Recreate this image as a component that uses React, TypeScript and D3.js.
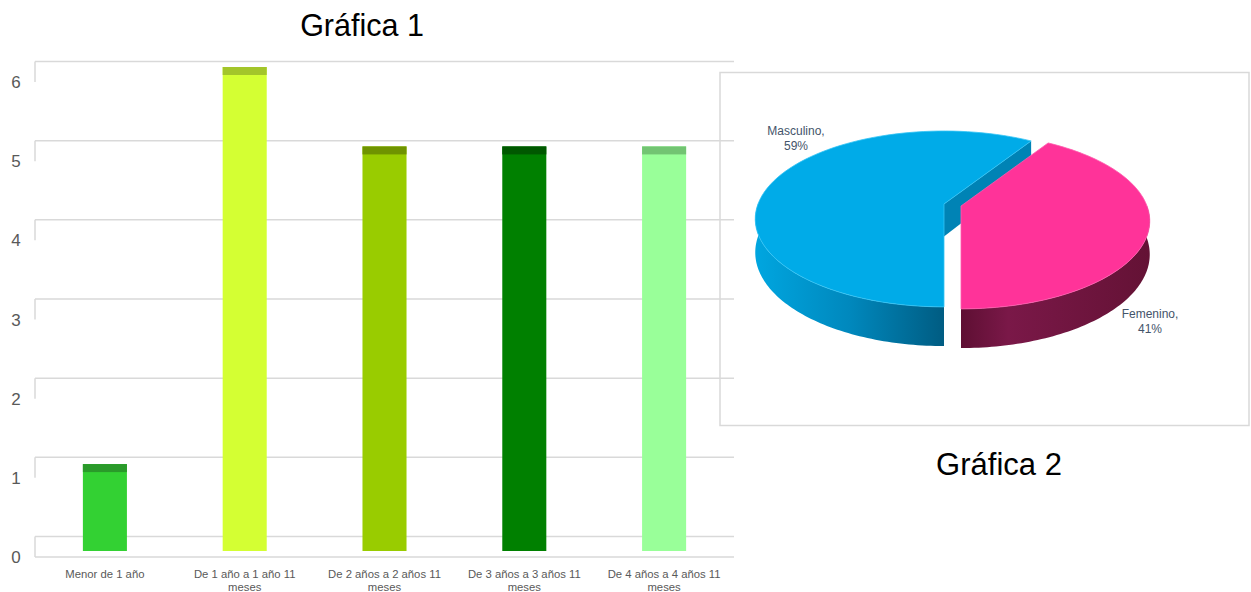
import React from "react";
import * as d3 from "d3";

const categories = [
  ["Menor de 1 año"],
  ["De 1 año a 1 año 11", "meses"],
  ["De 2 años a 2 años 11", "meses"],
  ["De 3 años a 3 años 11", "meses"],
  ["De 4 años a 4 años 11", "meses"],
];
const values = [1, 6, 5, 5, 5];
const barColors = ["#33d133", "#d4ff33", "#99cc00", "#008000", "#99ff99"];
const capColors = ["#2a9a2a", "#a3c52a", "#6f9300", "#005800", "#72c472"];
const yTicks = [0, 1, 2, 3, 4, 5, 6];

const pieLabels = ["Femenino", "Masculino"];
const pieValues = [41, 59];
const pieTop = ["#ff3399", "#00abe8"];

const W = 1251;
const H = 592;

function BarChart() {
  const x = d3.scaleBand<number>().domain(d3.range(values.length)).range([35, 734]).paddingInner(0.685).paddingOuter(0.3425);
  const yBack = d3.scaleLinear().domain([0, 6]).range([536.5, 61.5]);
  const yFront = d3.scaleLinear().domain([0, 6]).range([557, 82]);
  const yBar = d3.scaleLinear().domain([0, 6]).range([543.5, 67]);
  const barBottom = 551;
  const grid = "#d9d9d9";
  return (
    <g>
      {yTicks.map((t) => (
        <g key={t}>
          <line x1={35} x2={734} y1={yBack(t)} y2={yBack(t)} stroke={grid} strokeWidth={1.5} />
          <line x1={35} x2={35} y1={yBack(t)} y2={yFront(t)} stroke={grid} strokeWidth={1.5} />
          <text x={16} y={yFront(t) + 6} textAnchor="middle" fontSize={17} fill="#595959" fontFamily="Liberation Sans, Arial, sans-serif">{t}</text>
        </g>
      ))}
      <line x1={35} x2={734} y1={yFront(0)} y2={yFront(0)} stroke={grid} strokeWidth={1.5} />
      {values.map((v, i) => {
        const bx = x(i)!;
        const bw = x.bandwidth();
        const top = yBar(v);
        return (
          <g key={i}>
            <rect x={bx} y={top} width={bw} height={barBottom - top} fill={barColors[i]} />
            <rect x={bx} y={top} width={bw} height={8} fill={capColors[i]} />
          </g>
        );
      })}
      {categories.map((lines, i) => (
        <text key={i} x={x(i)! + x.bandwidth() / 2} y={578} textAnchor="middle" fontSize={11.3} fill="#595959" fontFamily="Liberation Sans, Arial, sans-serif">
          {lines.map((l, j) => (
            <tspan key={j} x={x(i)! + x.bandwidth() / 2} dy={j === 0 ? 0 : 13}>{l}</tspan>
          ))}
        </text>
      ))}
      <text x={362} y={36} textAnchor="middle" fontSize={30.5} fill="#000" fontFamily="Liberation Sans, Arial, sans-serif">Gráfica 1</text>
    </g>
  );
}

function PieChart() {
  const rx = 186;
  const ry = 85.4;
  const p = 0.17;
  const depth = 32.5;
  const total = d3.sum(pieValues);
  // angles clockwise from 12 o'clock; Femenino from 32.4° to 180°
  const femStart = Math.PI - (pieValues[0] / total) * 2 * Math.PI;
  const slices = [
    { start: femStart, end: Math.PI, cx: 961, cy: 206 },
    { start: Math.PI, end: femStart + 2 * Math.PI, cx: 944, cy: 204 },
  ];
  const proj = (cx: number, cy: number, a: number, r = 1, dz = 0) => {
    const xu = Math.sin(a) * r;
    const yu = -Math.cos(a) * r;
    const s = 1 / (1 - p * yu);
    return [cx + rx * xu * s, cy + ry * yu * s + dz * s] as [number, number];
  };
  const arcPts = (cx: number, cy: number, a0: number, a1: number, dz = 0) => {
    const n = 80;
    return d3.range(n + 1).map((k) => proj(cx, cy, a0 + ((a1 - a0) * k) / n, 1, dz));
  };
  const line = d3.line();
  const elems: React.ReactNode[] = [];
  slices.forEach((s, i) => {
    const a0 = Math.max(s.start, Math.PI / 2);
    const a1 = Math.min(s.end, (3 * Math.PI) / 2);
    if (a1 > a0) {
      const topPts = arcPts(s.cx, s.cy, a0, a1);
      const botPts = arcPts(s.cx, s.cy, a1, a0, depth);
      elems.push(<path key={"side" + i} d={line([...topPts, ...botPts])! + "Z"} fill={`url(#side${i})`} />);
    }
  });
  {
    const s = slices[1];
    const c = [s.cx, s.cy] as [number, number];
    const e = proj(s.cx, s.cy, s.end);
    const eb = proj(s.cx, s.cy, s.end, 1, depth);
    const cb = [s.cx, s.cy + depth] as [number, number];
    elems.push(<path key="cut" d={line([c, e, eb, cb])! + "Z"} fill="#0083b5" />);
  }
  slices.forEach((s, i) => {
    const pts = [[s.cx, s.cy] as [number, number], ...arcPts(s.cx, s.cy, s.start, s.end)];
    elems.push(<path key={"top" + i} d={line(pts)! + "Z"} fill={pieTop[i]} stroke={i === 1 ? "#33c4f5" : "#ff5aad"} strokeWidth={0.8} />);
  });
  const font = "Liberation Sans, Arial, sans-serif";
  return (
    <g>
      <defs>
        <linearGradient id="side0" x1="0" x2="1" y1="0" y2="0">
          <stop offset="0" stopColor="#5e0f33" />
          <stop offset="0.25" stopColor="#7a1848" />
          <stop offset="1" stopColor="#641235" />
        </linearGradient>
        <linearGradient id="side1" x1="0" x2="1" y1="0" y2="0">
          <stop offset="0" stopColor="#00a6e0" />
          <stop offset="0.5" stopColor="#0088bd" />
          <stop offset="1" stopColor="#005c82" />
        </linearGradient>
      </defs>
      <rect x={720} y={72.5} width={529} height={353} fill="none" stroke="#d9d9d9" strokeWidth={1.5} />
      {elems}
      <text x={796} y={135} textAnchor="middle" fontSize={12} fill="#44546a" fontFamily={font}>
        <tspan x={796}>{pieLabels[1]},</tspan>
        <tspan x={796} dy={15}>{pieValues[1]}%</tspan>
      </text>
      <text x={1150} y={318} textAnchor="middle" fontSize={12} fill="#44546a" fontFamily={font}>
        <tspan x={1150}>{pieLabels[0]},</tspan>
        <tspan x={1150} dy={15}>{pieValues[0]}%</tspan>
      </text>
      <text x={999} y={475} textAnchor="middle" fontSize={31} fill="#000" fontFamily={font}>Gráfica 2</text>
    </g>
  );
}

export default function App() {
  return (
    <svg width={W} height={H} style={{ position: "absolute", left: 0, top: 0, background: "#fff" }}>
      <BarChart />
      <PieChart />
    </svg>
  );
}
